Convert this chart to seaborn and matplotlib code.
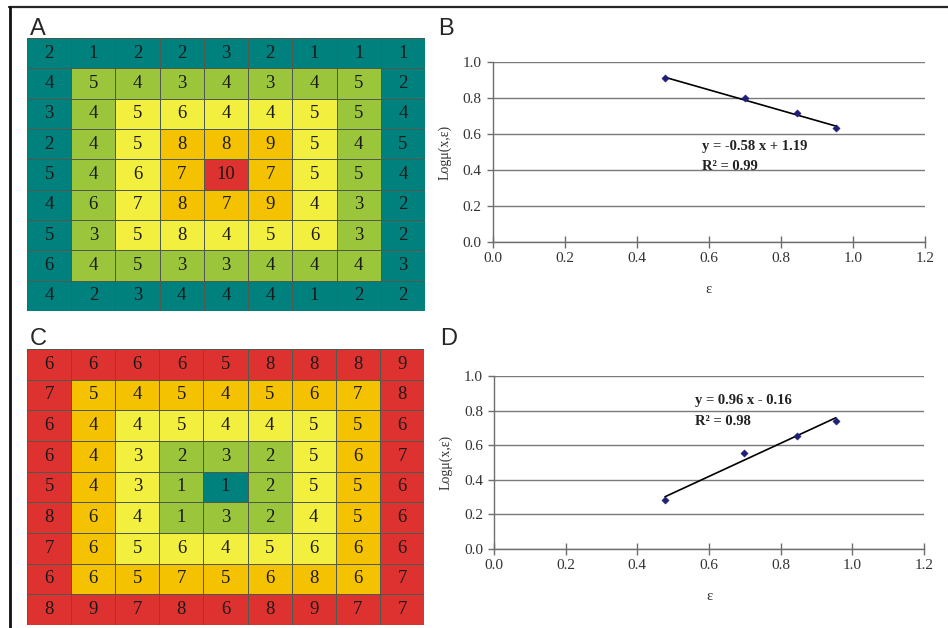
import numpy as np
import matplotlib
matplotlib.use("Agg")
import matplotlib.pyplot as plt
import seaborn as sns
from matplotlib.colors import ListedColormap
from matplotlib.lines import Line2D

# grid values, panel A
grid_a = [
    [2, 1, 2, 2, 3, 2, 1, 1, 1],
    [4, 5, 4, 3, 4, 3, 4, 5, 2],
    [3, 4, 5, 6, 4, 4, 5, 5, 4],
    [2, 4, 5, 8, 8, 9, 5, 4, 5],
    [5, 4, 6, 7, 10, 7, 5, 5, 4],
    [4, 6, 7, 8, 7, 9, 4, 3, 2],
    [5, 3, 5, 8, 4, 5, 6, 3, 2],
    [6, 4, 5, 3, 3, 4, 4, 4, 3],
    [4, 2, 3, 4, 4, 4, 1, 2, 2],
]

# grid values, panel C
grid_c = [
    [6, 6, 6, 6, 5, 8, 8, 8, 9],
    [7, 5, 4, 5, 4, 5, 6, 7, 8],
    [6, 4, 4, 5, 4, 4, 5, 5, 6],
    [6, 4, 3, 2, 3, 2, 5, 6, 7],
    [5, 4, 3, 1, 1, 2, 5, 5, 6],
    [8, 6, 4, 1, 3, 2, 4, 5, 6],
    [7, 6, 5, 6, 4, 5, 6, 6, 6],
    [6, 6, 5, 7, 5, 6, 8, 6, 7],
    [8, 9, 7, 8, 6, 8, 9, 7, 7],
]

# ring of each cell (0 = outer border, 4 = centre)
rings = [
    [0, 0, 0, 0, 0, 0, 0, 0, 0],
    [0, 1, 1, 1, 1, 1, 1, 1, 0],
    [0, 1, 2, 2, 2, 2, 2, 1, 0],
    [0, 1, 2, 3, 3, 3, 2, 1, 0],
    [0, 1, 2, 3, 4, 3, 2, 1, 0],
    [0, 1, 2, 3, 3, 3, 2, 1, 0],
    [0, 1, 2, 2, 2, 2, 2, 1, 0],
    [0, 1, 1, 1, 1, 1, 1, 1, 0],
    [0, 0, 0, 0, 0, 0, 0, 0, 0],
]

TEAL, GREEN, YELLOW, ORANGE, RED = "#00817e", "#9bc63c", "#f3ef3e", "#f4c200", "#dd3230"
colors_a = [TEAL, GREEN, YELLOW, ORANGE, RED]
colors_c = [RED, ORANGE, YELLOW, GREEN, TEAL]

# scatter data
eps = [0.477, 0.699, 0.845, 0.954]
logmu_b = [0.909, 0.798, 0.715, 0.632]
logmu_d = [0.281, 0.553, 0.655, 0.740]
eq_b = ("y = -0.58 x + 1.19", "R² = 0.99")
eq_d = ("y = 0.96 x - 0.16", "R² = 0.98")

SERIF = "Liberation Serif"
SANS = "Liberation Sans"

sns.set_theme(style="white")
plt.rcParams["font.family"] = [SERIF, "DejaVu Serif"]

fig = plt.figure(figsize=(9.48, 6.28), dpi=100)


def draw_grid(ax, values, colors):
    sns.heatmap(np.array(rings), ax=ax, cmap=ListedColormap(colors),
                vmin=-0.5, vmax=4.5, cbar=False,
                annot=np.array(values), fmt="d",
                annot_kws=dict(fontsize=13.5, color="#1a1a1a", family=SERIF),
                linewidths=0.6, linecolor="#4d5a4d",
                xticklabels=False, yticklabels=False)


def draw_scatter(ax, y, eq, eq_pos):
    sns.regplot(x=eps, y=y, ax=ax, ci=None, scatter=False, truncate=True,
                line_kws=dict(color="black", lw=1.2))
    sns.scatterplot(x=eps, y=y, ax=ax, marker="D", s=14, color="#1f1f7a",
                    edgecolor="#1f1f7a", zorder=4)
    ax.set_xlim(0, 1.2)
    ax.set_ylim(0, 1.0)
    ax.set_xticks(np.arange(0, 1.21, 0.2))
    ax.set_yticks(np.arange(0, 1.01, 0.2))
    ax.set_xticklabels([f"{v:.1f}" for v in np.arange(0, 1.21, 0.2)])
    ax.set_yticklabels([f"{v:.1f}" for v in np.arange(0, 1.01, 0.2)])
    ax.yaxis.grid(True, color="#7a7a7a", lw=1.0)
    ax.xaxis.grid(False)
    for s in ["top", "right"]:
        ax.spines[s].set_visible(False)
    for s in ["left", "bottom"]:
        ax.spines[s].set_color("#6e6e6e")
        ax.spines[s].set_linewidth(1.0)
    ax.tick_params(axis="x", direction="inout", length=8, width=1.0,
                   color="#6e6e6e", labelsize=11, pad=3, bottom=True,
                   labelcolor="#333333")
    ax.tick_params(axis="y", direction="out", length=4, width=1.0,
                   color="#6e6e6e", labelsize=11, pad=4, left=True,
                   labelcolor="#333333")
    ax.set_xlabel("ε", fontsize=10.5, labelpad=13, color="#333333")
    ax.set_ylabel("Logμ(x,ε)", fontsize=10, labelpad=8, color="#333333")
    ax.text(eq_pos[0], eq_pos[1], eq[0], fontsize=10.5, fontweight="bold",
            va="center", color="#222222")
    ax.text(eq_pos[0], eq_pos[2], eq[1], fontsize=10.5, fontweight="bold",
            va="center", color="#222222")


ax_a = fig.add_axes([0.0285, 0.5048, 0.4198, 0.4347])
draw_grid(ax_a, grid_a, colors_a)
ax_c = fig.add_axes([0.0285, 0.0048, 0.4188, 0.4395])
draw_grid(ax_c, grid_c, colors_c)

ax_b = fig.add_axes([0.5200, 0.6146, 0.4557, 0.2866])
draw_scatter(ax_b, logmu_b, eq_b, (0.58, 0.53, 0.42))
ax_d = fig.add_axes([0.5211, 0.1258, 0.4536, 0.2755])
draw_scatter(ax_d, logmu_d, eq_d, (0.56, 0.86, 0.735))

# panel letters
for lab, x, y in [("A", 30, 35), ("B", 438, 35), ("C", 30, 345), ("D", 440, 345)]:
    fig.text(x / 948, 1 - y / 628, lab, fontsize=17, family=SANS,
             ha="left", va="baseline")

# frame lines at top and left
fig.add_artist(Line2D([9 / 948, 1], [1 - 7 / 628, 1 - 7 / 628],
                      color="#262626", lw=1.6, transform=fig.transFigure))
fig.add_artist(Line2D([9.5 / 948, 9.5 / 948], [0, 1 - 7 / 628],
                      color="#111111", lw=2.0, transform=fig.transFigure))

fig.savefig("out.png", dpi=100)
